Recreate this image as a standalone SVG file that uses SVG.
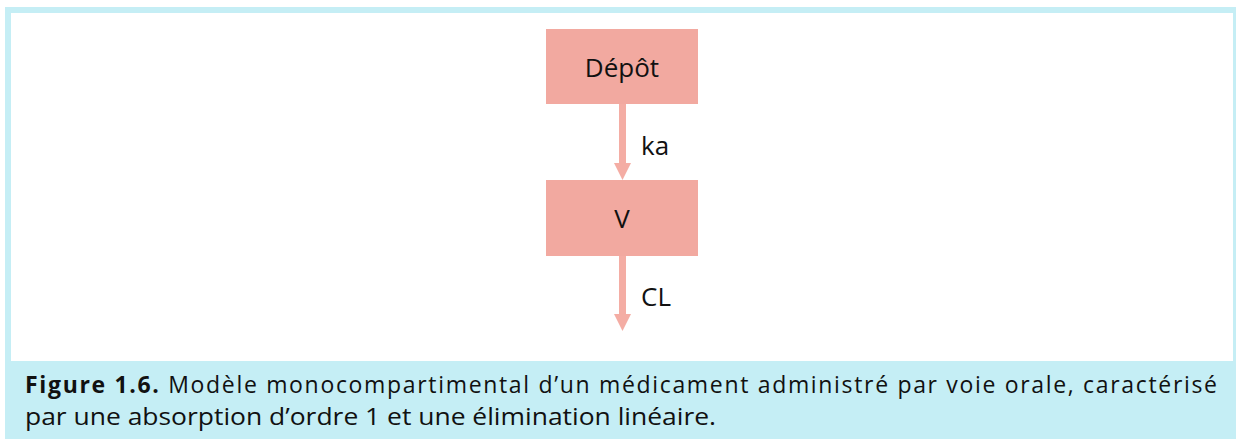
<svg xmlns="http://www.w3.org/2000/svg" width="1236" height="439" viewBox="0 0 1236 439">
  <style>
    .node { fill: #f2a9a0; }
    .lbl { font-family: "Open Sans", "Liberation Sans", sans-serif; font-size: 26px; fill: #111; }
    .cap { font-family: "Open Sans", "Liberation Sans", sans-serif; font-size: 23px; fill: #111; }
    .conn { stroke: #f4ada4; stroke-width: 7; fill: none; }
    .head { fill: #f4ada4; }
  </style>
  <rect x="0" y="0" width="1236" height="439" fill="#ffffff"/>
  <rect x="5" y="7" width="1231" height="432" fill="#c5eef5"/>
  <rect x="11" y="13" width="1222" height="348" fill="#ffffff"/>

  <g id="connectors">
    <line class="conn" x1="622.5" y1="104" x2="622.5" y2="165"/>
    <polygon class="head" points="614,163 631,163 622.5,180"/>
    <line class="conn" x1="622.5" y1="255" x2="622.5" y2="316"/>
    <polygon class="head" points="614,314 631,314 622.5,331"/>
    <text class="lbl" x="641" y="155">ka</text>
    <text class="lbl" x="641" y="306">CL</text>
  </g>

  <g id="depot">
    <rect class="node" x="546" y="29" width="152" height="75"/>
    <text class="lbl" x="622" y="77" text-anchor="middle">Dépôt</text>
  </g>

  <g id="v">
    <rect class="node" x="546" y="180" width="152" height="76"/>
    <text class="lbl" x="622" y="228" text-anchor="middle">V</text>
  </g>

  <g id="caption">
    <text class="cap" x="25" y="393" textLength="1192" lengthAdjust="spacing"><tspan font-weight="bold">Figure 1.6.</tspan> Modèle monocompartimental d’un médicament administré par voie orale, caractérisé</text>
    <text class="cap" x="25" y="425" textLength="691" lengthAdjust="spacingAndGlyphs">par une absorption d’ordre 1 et une élimination linéaire.</text>
  </g>
</svg>
